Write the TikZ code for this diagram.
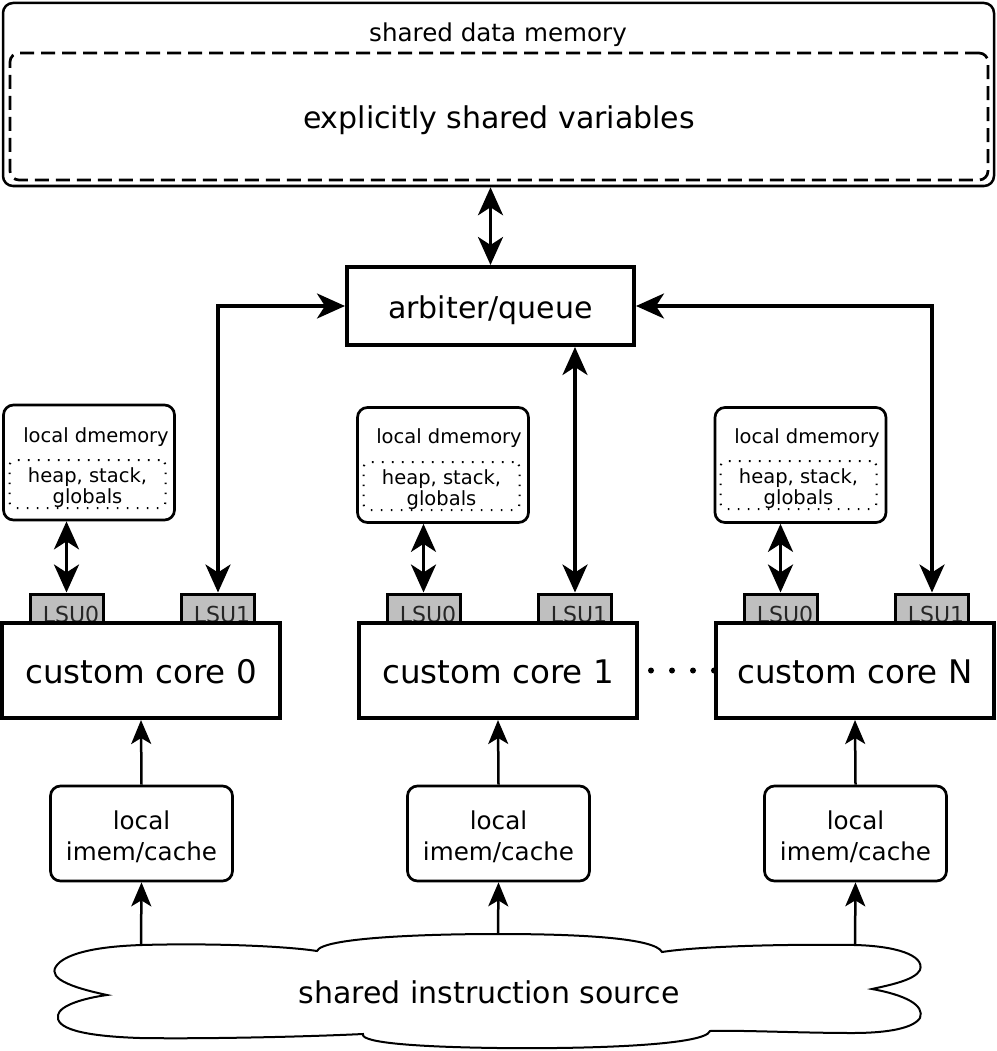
\documentclass[tikz,border=0pt]{standalone}
\usepackage{fontspec}
\setmainfont{DejaVu Sans}
\usetikzlibrary{arrows.meta}
\newcommand\fbig{\fontsize{30}{36}\selectfont}
\newcommand\fcorefont{\fontsize{32.5}{38}\selectfont}
\newcommand\fmid{\fontsize{24.6}{31}\selectfont}
\newcommand\fsml{\fontsize{19.5}{21}\selectfont}
\newcommand\flsu{\fontsize{22}{24}\selectfont}
\begin{document}
\begin{tikzpicture}[x=1pt,y=-1pt,
  rbox/.style={draw, line width=2.7pt, rounded corners=10pt, inner sep=0pt, fill=white},
  sbox/.style={draw, line width=4pt, inner sep=0pt, fill=white},
  corebox/.style={sbox, minimum width=278pt, minimum height=95pt, font=\fcorefont, text height=25pt, text depth=0pt},
  lsubox/.style={draw, line width=3pt, fill=black!25, minimum width=73pt, minimum height=30pt, inner sep=0pt, font=\flsu, text=black!85, text height=26pt, text depth=0pt},
  dmbox/.style={rbox, minimum width=171pt, minimum height=115pt},
  dotbox/.style={draw, line width=2pt, dash pattern=on 1.6pt off 8.4pt, rounded corners=6pt, minimum width=156pt, minimum height=48pt, inner sep=0pt},
  imbox/.style={rbox, minimum width=182pt, minimum height=95pt},
  imtext/.style={font=\fmid, align=center, inner sep=0pt},
  dbl/.style={line width=3.5pt, {Stealth[length=28pt,width=25pt,inset=8pt]}-{Stealth[length=28pt,width=25pt,inset=8pt]}},
  sgl/.style={line width=2.5pt, -{Stealth[length=24pt,width=20pt,inset=6pt]}},
  lbl/.style={inner sep=0pt, anchor=base}
]
\useasboundingbox (0,0) rectangle (996,1051);

% shared data memory
\node[rbox, line width=2.5pt, minimum width=991pt, minimum height=183pt] (sdm) at (498.5,94.5) {};
\node[lbl, font=\fontsize{24.6}{30}\selectfont] (sdmlbl) at (498,42) {shared data memory};
\node[draw, line width=2.7pt, dash pattern=on 14pt off 7pt, rounded corners=9pt, inner sep=0pt,
      minimum width=978pt, minimum height=127pt, font=\fbig, text height=25pt, text depth=0pt] (esv) at (499,116.5) {explicitly shared variables};

% arbiter
\node[sbox, minimum width=287pt, minimum height=78pt, font=\fbig, text height=24pt, text depth=0pt] (arb) at (490.5,306) {arbiter/queue};

% local data memories
\node[dmbox] (dm0) at (89,462.5) {};
\node[dmbox] (dm1) at (443,465) {};
\node[dmbox] (dmN) at (800.5,465) {};
\node[lbl, font=\fsml] (dm0t) at (96,442) {local dmemory};
\node[lbl, font=\fsml] (dm1t) at (449,443) {local dmemory};
\node[lbl, font=\fsml] (dmNt) at (807,443) {local dmemory};
\node[dotbox] (hs0) at (87.5,484) {};
\node[dotbox] (hs1) at (441.5,486) {};
\node[dotbox] (hsN) at (798.5,485) {};
\node[font=\fsml, align=center, inner sep=0pt] (hs0t) at (87.5,487.5) {heap, stack,\\globals};
\node[font=\fsml, align=center, inner sep=0pt] (hs1t) at (441.5,489.5) {heap, stack,\\globals};
\node[font=\fsml, align=center, inner sep=0pt] (hsNt) at (798.5,488.5) {heap, stack,\\globals};

% LSUs
\node[lsubox] (l00) at (66.5,609) {\hspace*{9pt}LSU0};
\node[lsubox] (l01) at (218,609) {\hspace*{8pt}LSU1};
\node[lsubox] (l10) at (423.5,609) {\hspace*{9pt}LSU0};
\node[lsubox] (l11) at (575,609) {\hspace*{8pt}LSU1};
\node[lsubox] (lN0) at (780.5,609) {\hspace*{9pt}LSU0};
\node[lsubox] (lN1) at (932,609) {\hspace*{8pt}LSU1};

% cores
\node[corebox] (c0) at (141,670.5) {custom core 0};
\node[corebox] (c1) at (498,670.5) {custom core 1};
\node[corebox] (cN) at (855,670.5) {custom core N};

% instruction memories
\node[imbox] (im0) at (141.5,833.5) {};
\node[imbox] (im1) at (498.5,833.5) {};
\node[imbox] (imN) at (855.5,833.5) {};
\node[imtext] (im0t) at (141.5,836.5) {local\\imem/cache};
\node[imtext] (im1t) at (498.5,836.5) {local\\imem/cache};
\node[imtext] (imNt) at (855.5,836.5) {local\\imem/cache};

% cloud
\draw[line width=2pt, fill=white]
  (107,995) .. controls (60,985) and (45,975) .. (60,962)
  .. controls (75,950) and (110,946) .. (142,945)
  .. controls (210,943) and (285,946) .. (317,951)
  .. controls (322,938) and (420,934) .. (498,934)
  .. controls (580,934) and (655,938) .. (662,952)
  .. controls (700,946) and (790,944) .. (855,945)
  .. controls (895,946) and (925,955) .. (920,970)
  .. controls (915,980) and (890,985) .. (872,989)
  .. controls (905,995) and (925,1005) .. (920,1018)
  .. controls (912,1030) and (880,1033) .. (853,1033)
  .. controls (800,1033) and (740,1030) .. (710,1031)
  .. controls (705,1046) and (580,1049) .. (498,1048)
  .. controls (420,1047) and (360,1043) .. (363,1034)
  .. controls (300,1037) and (200,1039) .. (140,1038)
  .. controls (80,1036) and (55,1028) .. (58,1015)
  .. controls (60,1005) and (85,998) .. (107,995) -- cycle;
\node[lbl, font=\fbig] (cloudt) at (489,1003) {shared instruction source};
\coordinate (s0) at (141,945.5);
\coordinate (s1) at (498,934.5);
\coordinate (sN) at (855,945.5);

% connectors
\draw[dbl] (sdm.south -| arb.north) -- (arb.north);
\draw[dbl] (arb.west) -| (l01.north);
\draw[dbl] (arb.east) -| (lN1.north);
\draw[dbl] (arb.south -| l11.north) -- (l11.north);
\draw[dbl] (l00.north) -- (l00.north |- dm0.south);
\draw[dbl] (l10.north) -- (l10.north |- dm1.south);
\draw[dbl] (lN0.north) -- (lN0.north |- dmN.south);
\draw[sgl] (im0.north) -- (c0.south);
\draw[sgl] (im1.north) -- (c1.south);
\draw[sgl] (imN.north) -- (cN.south);
\draw[sgl] (s0) -- (im0.south);
\draw[sgl] (s1) -- (im1.south);
\draw[sgl] (sN) -- (imN.south);
\draw[line width=6pt, line cap=round, dash pattern=on 0pt off 21pt] (cN.west) -- (c1.east);
\end{tikzpicture}
\end{document}
